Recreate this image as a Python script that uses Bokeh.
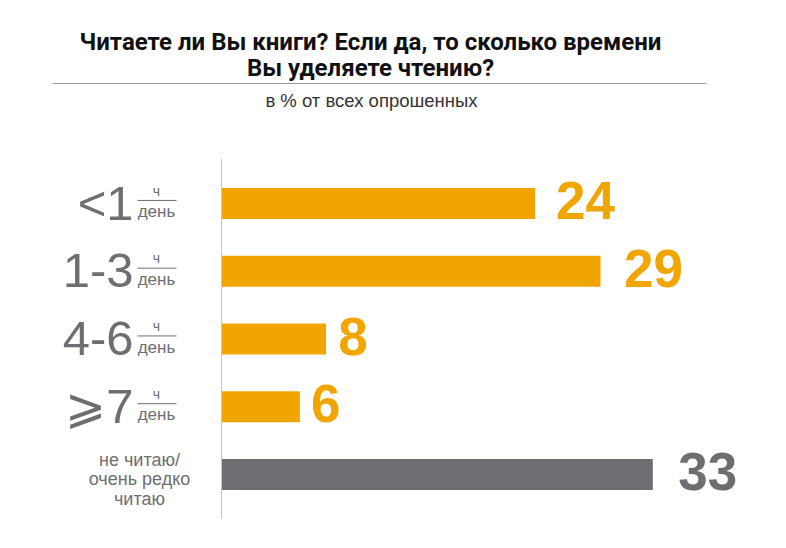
from bokeh.plotting import figure
from bokeh.models import Range1d, Label, ColumnDataSource
from bokeh.core.properties import value
from bokeh.embed import file_html
from bokeh.resources import INLINE

categories = ["<1", "1-3", "4-6", "⩾7", "не читаю/\nочень редко\nчитаю"]
values = [24, 29, 8, 6, 33]
colors = ["#f0a500", "#f0a500", "#f0a500", "#f0a500", "#6d6e71"]
title_lines = ["Читаете ли Вы книги? Если да, то сколько времени", "Вы уделяете чтению?"]
subtitle = "в % от всех опрошенных"
unit_top = "ч"
unit_bottom = "день"

W, H = 786, 548
X0, PX_PER = 221.0, 13.07
Y0, PX_ROW = 203.0, 67.75

def dx(px):
    return (px - X0) / PX_PER

p = figure(width=W, height=H, output_backend="svg", toolbar_location=None,
           min_border=0, x_range=Range1d(dx(0), dx(W)),
           y_range=Range1d((H - Y0) / PX_ROW, -Y0 / PX_ROW))
p.axis.visible = False
p.grid.visible = False
p.outline_line_color = None
p.background_fill_color = "white"
p.border_fill_color = "white"

ys = list(range(len(categories)))
# label positions drift slightly with value in the original layout
label_x = [(8 + 13.6 * v) / PX_PER for v in values]
src = ColumnDataSource(dict(y=ys, v=values, c=colors, lx=label_x,
                            lbl=[str(v) for v in values]))

p.hbar(y="y", left=0, right="v", height=0.46, fill_color="c", line_color=None, source=src)

# vertical baseline
p.segment(x0=[0], x1=[0], y0=[-0.66], y1=[4.65], line_color="#c8c8c8", line_width=1)

# value labels
p.text(x="lx", y="y", text="lbl", text_color="c", source=src, y_offset=-3,
       text_font=value("Liberation Sans"), text_font_style="bold", text_font_size="53px",
       text_baseline="middle", text_align="left")

# category labels (hour ranges)
gray = "#6d6e71"
nh = 4
p.text(x=[dx(133)] * nh, y=ys[:nh], text=categories[:nh], text_color=gray,
       text_font=value("Liberation Sans"), text_font_size="49px",
       text_baseline="middle", text_align="right", y_offset=-1)
p.segment(x0=[dx(137)] * nh, x1=[dx(176)] * nh, y0=[y - 0.045 for y in ys[:nh]],
          y1=[y - 0.045 for y in ys[:nh]], line_color=gray, line_width=1)
p.text(x=[dx(156)] * nh, y=ys[:nh], text=[unit_top] * nh, text_color=gray,
       text_font=value("Liberation Sans"), text_font_size="14px",
       text_baseline="middle", text_align="center", y_offset=-13)
p.text(x=[dx(156)] * nh, y=ys[:nh], text=[unit_bottom] * nh, text_color=gray,
       text_font=value("Liberation Sans"), text_font_size="17px",
       text_baseline="middle", text_align="center", y_offset=8)

# last category (multi-line)
p.text(x=[dx(139)], y=[ys[4]], text=[categories[4]], text_color=gray,
       text_font=value("Liberation Sans"), text_font_size="18px",
       text_baseline="middle", text_align="center", text_line_height=0.97, y_offset=5)

# title
for i, t in enumerate(title_lines):
    p.add_layout(Label(x=370, y=H - 41 - 26 * i, x_units="screen", y_units="screen", text=t,
                       text_font="Roboto", text_font_style="bold",
                       text_font_size="24px", text_color="#111111",
                       text_align="center", text_baseline="middle"))
p.add_layout(Label(x=371, y=H - 100, x_units="screen", y_units="screen", text=subtitle,
                   text_font="Liberation Sans", text_font_size="18.5px", text_color="#333333",
                   text_align="center", text_baseline="middle"))
# rule under title
p.segment(x0=[dx(52)], x1=[dx(706)], y0=[(83 - Y0) / PX_ROW], y1=[(83 - Y0) / PX_ROW],
          line_color="#999999", line_width=1)

open("out.html", "w").write(file_html(p, INLINE))
